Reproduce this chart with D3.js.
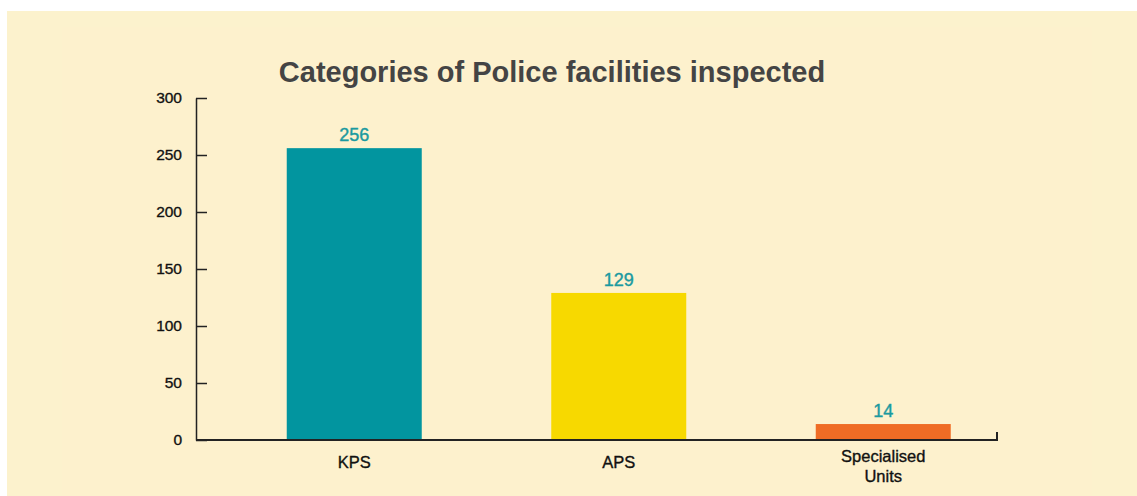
<!DOCTYPE html>
<html>
<head>
<meta charset="utf-8">
<script src="https://cdn.jsdelivr.net/npm/d3@7"></script>
<style>
  html, body { margin: 0; padding: 0; background: #ffffff; }
  svg { display: block; font-family: "Liberation Sans", Arial, Helvetica, sans-serif; }
</style>
</head>
<body>
<div id="chart"></div>
<script>
// data
var categories = ["KPS", "APS", "Specialised Units"];
var values = [256, 129, 14];
var barColors = ["#02959f", "#f7d900", "#ef6c25"];
var yTicks = [0, 50, 100, 150, 200, 250, 300];

var width = 1137, height = 496;

var svg = d3.select("#chart").append("svg")
    .attr("width", width)
    .attr("height", height);

// cream panel
svg.append("rect")
    .attr("x", 7).attr("y", 11)
    .attr("width", width - 7).attr("height", height - 11)
    .attr("fill", "#fcf2cd");
svg.append("rect")
    .attr("x", 62).attr("y", 27)
    .attr("width", 1030).attr("height", height - 27)
    .attr("fill", "#fdf1cd");

// scales
var y = d3.scaleLinear().domain([0, 300]).range([440, 98]);
var x = d3.scalePoint().domain(categories).range([222, 1015.5]).padding(0.5);
var barWidth = 135;
var axisLeft = 196, axisRight = 997;

// title
svg.append("text")
    .attr("x", 552)
    .attr("y", 82)
    .attr("text-anchor", "middle")
    .attr("font-size", 29)
    .attr("font-weight", "bold")
    .attr("fill", "#444444")
    .text("Categories of Police facilities inspected");

// y axis with ticks pointing inwards
var yAxis = svg.append("g")
    .attr("transform", "translate(" + axisLeft + ",0)")
    .call(d3.axisRight(y).tickValues(yTicks).tickSize(11).tickSizeOuter(0).tickFormat(d3.format("d")));
yAxis.select(".domain").attr("stroke", "#222").attr("stroke-width", 1.5);
yAxis.selectAll(".tick line").attr("stroke", "#222").attr("stroke-width", 1.5);
yAxis.selectAll(".tick text")
    .attr("x", -14)
    .attr("text-anchor", "end")
    .attr("font-size", 15.5)
    .attr("font-family", "Liberation Sans, Arial, sans-serif")
    .attr("fill", "#111")
    .attr("stroke", "#111")
    .attr("stroke-width", 0.35);

// bars
svg.selectAll("rect.bar")
    .data(values)
    .enter().append("rect")
    .attr("class", "bar")
    .attr("x", function(d, i) { return x(categories[i]) - barWidth / 2; })
    .attr("y", function(d) { return y(d); })
    .attr("width", barWidth)
    .attr("height", function(d) { return y(0) - y(d); })
    .attr("fill", function(d, i) { return barColors[i]; });

// x axis line with the small end tick
svg.append("path")
    .attr("d", "M" + axisLeft + "," + y(0) + "H" + axisRight + "V" + (y(0) - 8))
    .attr("fill", "none")
    .attr("stroke", "#222")
    .attr("stroke-width", 2);

// value labels
svg.selectAll("text.val")
    .data(values)
    .enter().append("text")
    .attr("class", "val")
    .attr("x", function(d, i) { return x(categories[i]); })
    .attr("y", function(d) { return y(d) - 7; })
    .attr("text-anchor", "middle")
    .attr("font-size", 18)
    .attr("fill", "#1b9aa0")
    .attr("stroke", "#1b9aa0")
    .attr("stroke-width", 0.4)
    .text(function(d) { return d; });

// category labels, "Specialised Units" wraps to two lines
svg.selectAll("text.cat")
    .data(categories)
    .enter().append("text")
    .attr("class", "cat")
    .attr("x", function(d) { return x(d); })
    .attr("y", 468)
    .attr("text-anchor", "middle")
    .attr("font-size", 16.5)
    .attr("fill", "#111")
    .attr("stroke", "#111")
    .attr("stroke-width", 0.35)
    .each(function(d) {
        var words = d.split(" ");
        var t = d3.select(this);
        if (words.length > 1) {
            t.attr("y", 462);
            words.forEach(function(w, k) {
                t.append("tspan")
                    .attr("x", x(d))
                    .attr("dy", k === 0 ? 0 : 20)
                    .text(w);
            });
        } else {
            t.text(d);
        }
    });
</script>
</body>
</html>
